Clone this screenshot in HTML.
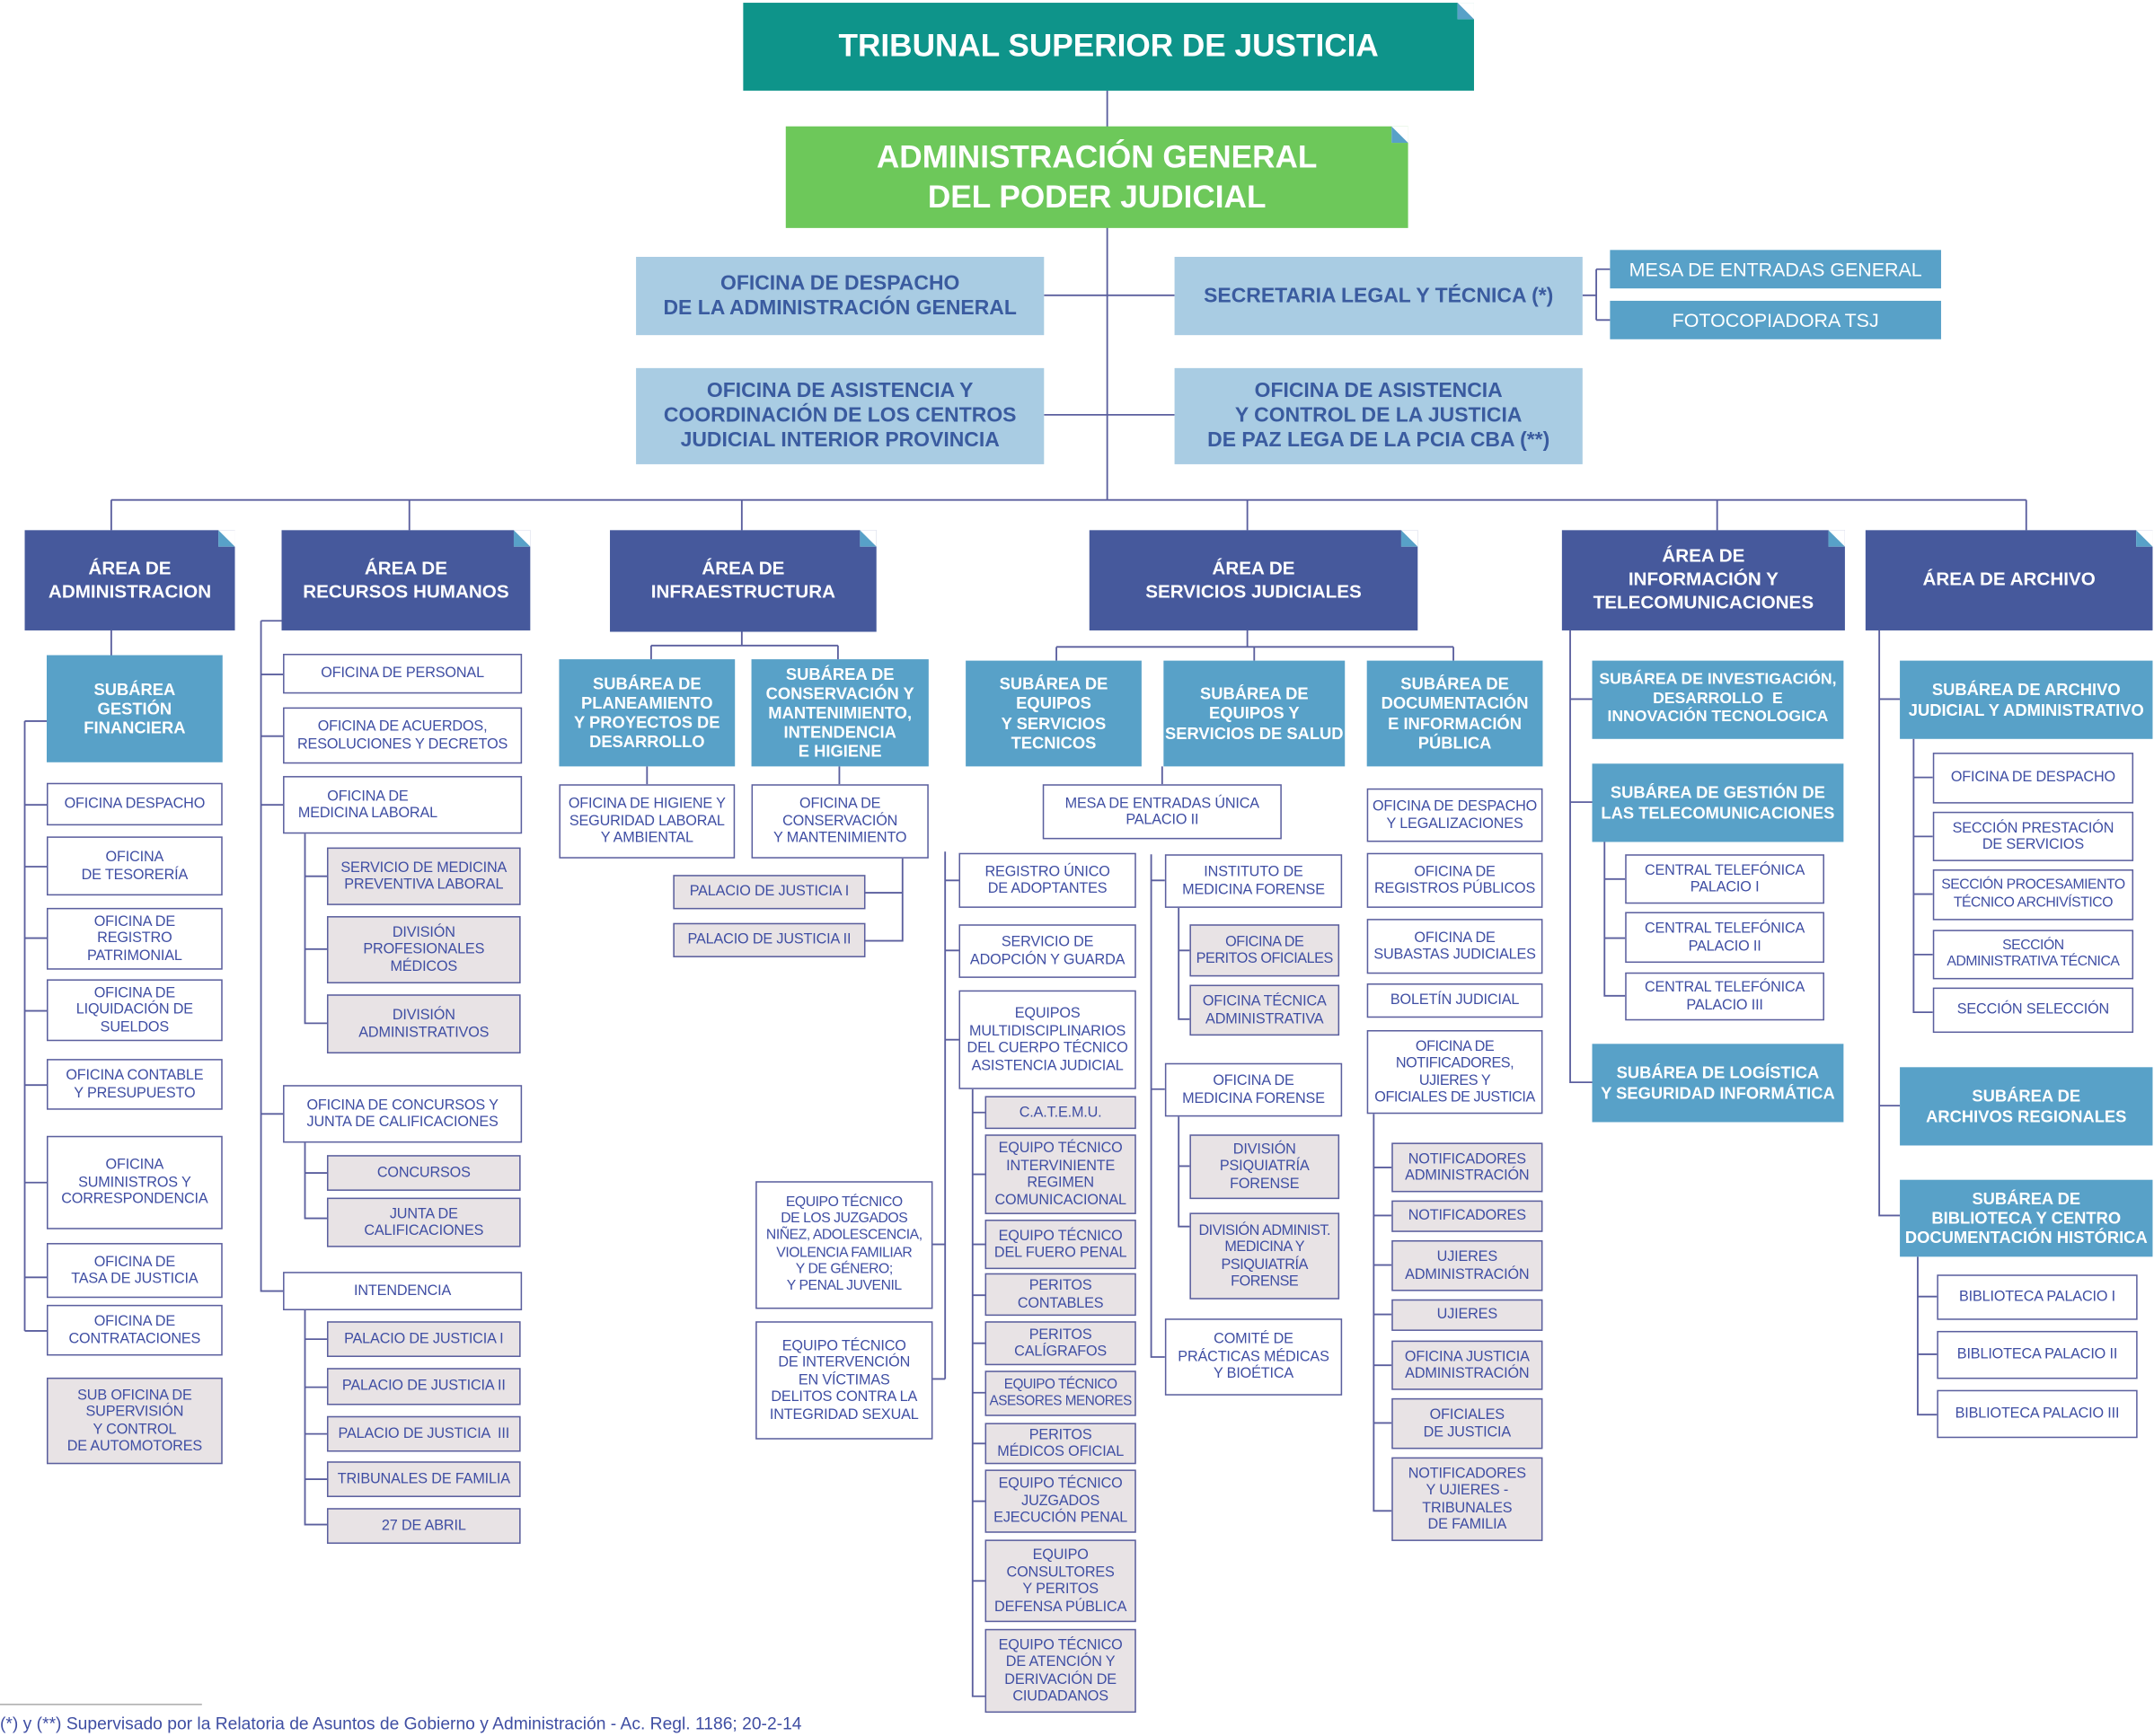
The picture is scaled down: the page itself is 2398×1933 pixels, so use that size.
<!DOCTYPE html>
<html><head><meta charset="utf-8">
<style>
html,body{margin:0;padding:0;background:#fff;width:2398px;height:1933px;overflow:hidden}
#w{position:absolute;left:0;top:0;width:1568px;height:1264px;transform:scale(1.52934);transform-origin:0 0;font-family:"Liberation Sans",sans-serif}
.x{position:absolute;display:flex;align-items:center;justify-content:center;text-align:center;box-sizing:border-box;line-height:1.18;text-transform:uppercase}
.b{background:#fff;border:1.3px solid #5b5f9e;color:#3f4ea3;font-size:10.6px;white-space:nowrap;letter-spacing:-0.1px}
.g{background:#e8e3e5;border:1.3px solid #5b5f9e;color:#3f4ea3;font-size:10.6px;white-space:nowrap;letter-spacing:-0.1px}
.s{background:#58a1c8;color:#fff;font-weight:bold;font-size:12px;white-space:nowrap}
.a{background:#46599c;color:#fff;font-weight:bold;font-size:13.5px;line-height:1.25}
.l{background:#a9cce3;color:#3a5b9f;font-weight:bold;font-size:15px;line-height:1.2}
.m{background:#58a1c8;color:#fff;font-size:14px}
.f::after{content:"";position:absolute;top:0;right:0;width:0;height:0;border-left:12px solid #58a1c8;border-top:12px solid #fff}
svg{position:absolute;left:0;top:0}
</style></head><body><div id="w">
<svg width="1568" height="1264" fill="none" stroke="#5b5f9e" stroke-width="1.2">
<path d="M806 66V364M760 215H855M760 302H855M1152 215H1162M1162 196V233M1162 196H1172M1162 233H1172"/>
<path d="M81 364H1475M81 364V386M298 364V386M540 364V386M908 364V386M1250 364V386M1475 364V386"/>
<path d="M81 459V477M18 525V969M18 525H34M18 586H34M18 631H34M18 683H34M18 736H34M18 790H34M18 861H34M18 930H34M18 969H34"/>
<path d="M190 452V940H206M190 452H205M190 491H206M190 536H206M190 586H206M190 811H206M222 607V745H238M222 638H238M222 691H238M222 832V887H238M222 854H238M222 954V1110H238M222 975H238M222 1010H238M222 1044H238M222 1077H238"/>
<path d="M540 460V470M474 470H610M474 470V480M610 470V480M471 558V571M611 558V571M657 625V685H630M630 650H657"/>
<path d="M908 459V471M769 471H1058M769 471V481M913 471V481M1058 471V481M846 558V571M688 620V1004M688 641H698M688 692H698M688 757H698M679 906H688M679 1004H688M708 793V1235H717M708 810H717M708 855H717M708 906H717M708 943H717M708 978H717M708 1014H717M708 1051H717M708 1093H717M708 1151H717"/>
<path d="M838 622V988H848M838 641H848M838 793H848M858 661V742H866M858 692H866M858 813V893H866M858 849H866"/>
<path d="M1000 811V1100H1013M1000 850H1013M1000 885H1013M1000 921H1013M1000 957H1013M1000 994H1013M1000 1036H1013"/>
<path d="M1143 459V788H1159M1143 509H1159M1143 584H1159M1168 613V725H1183M1168 640H1183M1168 683H1183"/>
<path d="M1368 459V885H1383M1368 509H1383M1368 805H1383M1393 538V737H1407M1393 566H1407M1393 609H1407M1393 651H1407M1393 695H1407M1396 915V1030H1410M1396 944H1410M1396 986H1410"/>
<path d="M0 1241H147" stroke="#999" stroke-width="0.8"/>
</svg>
<div class="x f" style="left:541px;top:2px;width:532px;height:64px;background:#0e948a;color:#fff;font-weight:bold;font-size:23px">TRIBUNAL SUPERIOR DE JUSTICIA</div>
<div class="x f" style="left:572px;top:92px;width:453px;height:74px;background:#6dc85a;color:#fff;font-weight:bold;font-size:23px;line-height:1.25">ADMINISTRACIÓN GENERAL<br>DEL PODER JUDICIAL</div>
<div class="x l" style="left:463px;top:187px;width:297px;height:57px">OFICINA DE DESPACHO<br>DE LA ADMINISTRACIÓN GENERAL</div>
<div class="x l" style="left:855px;top:187px;width:297px;height:57px">SECRETARIA LEGAL Y TÉCNICA (*)</div>
<div class="x m" style="left:1172px;top:182px;width:241px;height:28px">MESA DE ENTRADAS GENERAL</div>
<div class="x m" style="left:1172px;top:219px;width:241px;height:28px">FOTOCOPIADORA TSJ</div>
<div class="x l" style="left:463px;top:268px;width:297px;height:70px">OFICINA DE ASISTENCIA Y<br>COORDINACIÓN DE LOS CENTROS<br>JUDICIAL INTERIOR PROVINCIA</div>
<div class="x l" style="left:855px;top:268px;width:297px;height:70px">OFICINA DE ASISTENCIA<br>Y CONTROL DE LA JUSTICIA<br>DE PAZ LEGA DE LA PCIA CBA (**)</div>

<div class="x a f" style="left:18px;top:386px;width:153px;height:73px">ÁREA DE<br>ADMINISTRACION</div>
<div class="x a f" style="left:205px;top:386px;width:181px;height:73px">ÁREA DE<br>RECURSOS HUMANOS</div>
<div class="x a f" style="left:444px;top:386px;width:194px;height:74px">ÁREA DE<br>INFRAESTRUCTURA</div>
<div class="x a f" style="left:793px;top:386px;width:239px;height:73px">ÁREA DE<br>SERVICIOS JUDICIALES</div>
<div class="x a f" style="left:1137px;top:386px;width:206px;height:73px">ÁREA DE<br>INFORMACIÓN Y<br>TELECOMUNICACIONES</div>
<div class="x a f" style="left:1358px;top:386px;width:209px;height:73px">ÁREA DE ARCHIVO</div>

<div class="x s" style="left:34px;top:477px;width:128px;height:78px">SUBÁREA<br>GESTIÓN<br>FINANCIERA</div>
<div class="x b" style="left:34px;top:570px;width:128px;height:31px">OFICINA DESPACHO</div>
<div class="x b" style="left:34px;top:609px;width:128px;height:43px">OFICINA<br>DE TESORERÍA</div>
<div class="x b" style="left:34px;top:661px;width:128px;height:45px">OFICINA DE<br>REGISTRO<br>PATRIMONIAL</div>
<div class="x b" style="left:34px;top:713px;width:128px;height:45px">OFICINA DE<br>LIQUIDACIÓN DE<br>SUELDOS</div>
<div class="x b" style="left:34px;top:771px;width:128px;height:37px">OFICINA CONTABLE<br>Y PRESUPUESTO</div>
<div class="x b" style="left:34px;top:827px;width:128px;height:68px">OFICINA<br>SUMINISTROS Y<br>CORRESPONDENCIA</div>
<div class="x b" style="left:34px;top:905px;width:128px;height:40px">OFICINA DE<br>TASA DE JUSTICIA</div>
<div class="x b" style="left:34px;top:950px;width:128px;height:37px">OFICINA DE<br>CONTRATACIONES</div>
<div class="x g" style="left:34px;top:1003px;width:128px;height:63px">SUB OFICINA DE<br>SUPERVISIÓN<br>Y CONTROL<br>DE AUTOMOTORES</div>

<div class="x b" style="left:206px;top:476px;width:174px;height:29px">OFICINA DE PERSONAL</div>
<div class="x b" style="left:206px;top:515px;width:174px;height:41px">OFICINA DE ACUERDOS,<br>RESOLUCIONES Y DECRETOS</div>
<div class="x b" style="left:206px;top:565px;width:174px;height:42px;justify-content:flex-start;padding-left:10px">OFICINA DE<br>MEDICINA LABORAL</div>
<div class="x g" style="left:238px;top:617px;width:141px;height:42px">SERVICIO DE MEDICINA<br>PREVENTIVA LABORAL</div>
<div class="x g" style="left:238px;top:667px;width:141px;height:49px">DIVISIÓN<br>PROFESIONALES<br>MÉDICOS</div>
<div class="x g" style="left:238px;top:724px;width:141px;height:43px">DIVISIÓN<br>ADMINISTRATIVOS</div>
<div class="x b" style="left:206px;top:790px;width:174px;height:42px">OFICINA DE CONCURSOS Y<br>JUNTA DE CALIFICACIONES</div>
<div class="x g" style="left:238px;top:841px;width:141px;height:26px">CONCURSOS</div>
<div class="x g" style="left:238px;top:872px;width:141px;height:36px">JUNTA DE<br>CALIFICACIONES</div>
<div class="x b" style="left:206px;top:926px;width:174px;height:28px">INTENDENCIA</div>
<div class="x g" style="left:238px;top:962px;width:141px;height:26px">PALACIO DE JUSTICIA I</div>
<div class="x g" style="left:238px;top:996px;width:141px;height:27px">PALACIO DE JUSTICIA II</div>
<div class="x g" style="left:238px;top:1031px;width:141px;height:26px">PALACIO DE JUSTICIA &nbsp;III</div>
<div class="x g" style="left:238px;top:1064px;width:141px;height:26px">TRIBUNALES DE FAMILIA</div>
<div class="x g" style="left:238px;top:1098px;width:141px;height:26px">27 DE ABRIL</div>

<div class="x s" style="left:407px;top:480px;width:128px;height:78px">SUBÁREA DE<br>PLANEAMIENTO<br>Y PROYECTOS DE<br>DESARROLLO</div>
<div class="x s" style="left:547px;top:480px;width:129px;height:78px">SUBÁREA DE<br>CONSERVACIÓN Y<br>MANTENIMIENTO,<br>INTENDENCIA<br>E HIGIENE</div>
<div class="x b" style="left:407px;top:571px;width:128px;height:54px">OFICINA DE HIGIENE Y<br>SEGURIDAD LABORAL<br>Y AMBIENTAL</div>
<div class="x b" style="left:547px;top:571px;width:129px;height:54px">OFICINA DE<br>CONSERVACIÓN<br>Y MANTENIMIENTO</div>
<div class="x g" style="left:490px;top:637px;width:140px;height:25px">PALACIO DE JUSTICIA I</div>
<div class="x g" style="left:490px;top:672px;width:140px;height:25px">PALACIO DE JUSTICIA II</div>

<div class="x s" style="left:703px;top:481px;width:128px;height:77px">SUBÁREA DE<br>EQUIPOS<br>Y SERVICIOS<br>TECNICOS</div>
<div class="x s" style="left:847px;top:481px;width:132px;height:77px">SUBÁREA DE<br>EQUIPOS Y<br>SERVICIOS DE SALUD</div>
<div class="x s" style="left:995px;top:481px;width:128px;height:77px">SUBÁREA DE<br>DOCUMENTACIÓN<br>E INFORMACIÓN<br>PÚBLICA</div>
<div class="x b" style="left:759px;top:571px;width:174px;height:40px">MESA DE ENTRADAS ÚNICA<br>PALACIO II</div>
<div class="x b" style="left:698px;top:621px;width:129px;height:40px">REGISTRO ÚNICO<br>DE ADOPTANTES</div>
<div class="x b" style="left:698px;top:673px;width:129px;height:39px">SERVICIO DE<br>ADOPCIÓN Y GUARDA</div>
<div class="x b" style="left:698px;top:721px;width:129px;height:72px">EQUIPOS<br>MULTIDISCIPLINARIOS<br>DEL CUERPO TÉCNICO<br>ASISTENCIA JUDICIAL</div>
<div class="x g" style="left:717px;top:798px;width:110px;height:24px">C.A.T.E.M.U.</div>
<div class="x g" style="left:717px;top:826px;width:110px;height:58px">EQUIPO TÉCNICO<br>INTERVINIENTE<br>REGIMEN<br>COMUNICACIONAL</div>
<div class="x g" style="left:717px;top:888px;width:110px;height:36px">EQUIPO TÉCNICO<br>DEL FUERO PENAL</div>
<div class="x g" style="left:717px;top:927px;width:110px;height:31px">PERITOS<br>CONTABLES</div>
<div class="x g" style="left:717px;top:962px;width:110px;height:32px">PERITOS<br>CALÍGRAFOS</div>
<div class="x g" style="left:717px;top:998px;width:110px;height:33px;font-size:10px;letter-spacing:-0.3px">EQUIPO TÉCNICO<br>ASESORES MENORES</div>
<div class="x g" style="left:717px;top:1036px;width:110px;height:30px">PERITOS<br>MÉDICOS OFICIAL</div>
<div class="x g" style="left:717px;top:1070px;width:110px;height:46px">EQUIPO TÉCNICO<br>JUZGADOS<br>EJECUCIÓN PENAL</div>
<div class="x g" style="left:717px;top:1121px;width:110px;height:60px">EQUIPO<br>CONSULTORES<br>Y PERITOS<br>DEFENSA PÚBLICA</div>
<div class="x g" style="left:717px;top:1186px;width:110px;height:61px">EQUIPO TÉCNICO<br>DE ATENCIÓN Y<br>DERIVACIÓN DE<br>CIUDADANOS</div>
<div class="x b" style="left:550px;top:860px;width:129px;height:93px;font-size:10.3px;letter-spacing:-0.3px">EQUIPO TÉCNICO<br>DE LOS JUZGADOS<br>NIÑEZ, ADOLESCENCIA,<br>VIOLENCIA FAMILIAR<br>Y DE GÉNERO;<br>Y PENAL JUVENIL</div>
<div class="x b" style="left:550px;top:962px;width:129px;height:86px">EQUIPO TÉCNICO<br>DE INTERVENCIÓN<br>EN VÍCTIMAS<br>DELITOS CONTRA LA<br>INTEGRIDAD SEXUAL</div>

<div class="x b" style="left:848px;top:622px;width:129px;height:39px">INSTITUTO DE<br>MEDICINA FORENSE</div>
<div class="x g" style="left:866px;top:673px;width:109px;height:38px;letter-spacing:-0.3px">OFICINA DE<br>PERITOS OFICIALES</div>
<div class="x g" style="left:866px;top:717px;width:109px;height:37px">OFICINA TÉCNICA<br>ADMINISTRATIVA</div>
<div class="x b" style="left:848px;top:774px;width:129px;height:39px">OFICINA DE<br>MEDICINA FORENSE</div>
<div class="x g" style="left:866px;top:826px;width:109px;height:47px">DIVISIÓN<br>PSIQUIATRÍA<br>FORENSE</div>
<div class="x g" style="left:866px;top:883px;width:109px;height:63px;letter-spacing:-0.3px">DIVISIÓN ADMINIST.<br>MEDICINA Y<br>PSIQUIATRÍA<br>FORENSE</div>
<div class="x b" style="left:848px;top:960px;width:129px;height:56px">COMITÉ DE<br>PRÁCTICAS MÉDICAS<br>Y BIOÉTICA</div>

<div class="x b" style="left:995px;top:574px;width:128px;height:39px">OFICINA DE DESPACHO<br>Y LEGALIZACIONES</div>
<div class="x b" style="left:995px;top:621px;width:128px;height:40px">OFICINA DE<br>REGISTROS PÚBLICOS</div>
<div class="x b" style="left:995px;top:669px;width:128px;height:40px">OFICINA DE<br>SUBASTAS JUDICIALES</div>
<div class="x b" style="left:995px;top:716px;width:128px;height:25px">BOLETÍN JUDICIAL</div>
<div class="x b" style="left:995px;top:750px;width:128px;height:61px;letter-spacing:-0.3px">OFICINA DE<br>NOTIFICADORES,<br>UJIERES Y<br>OFICIALES DE JUSTICIA</div>
<div class="x g" style="left:1013px;top:832px;width:110px;height:36px">NOTIFICADORES<br>ADMINISTRACIÓN</div>
<div class="x g" style="left:1013px;top:874px;width:110px;height:23px">NOTIFICADORES</div>
<div class="x g" style="left:1013px;top:903px;width:110px;height:37px">UJIERES<br>ADMINISTRACIÓN</div>
<div class="x g" style="left:1013px;top:946px;width:110px;height:23px">UJIERES</div>
<div class="x g" style="left:1013px;top:976px;width:110px;height:36px">OFICINA JUSTICIA<br>ADMINISTRACIÓN</div>
<div class="x g" style="left:1013px;top:1018px;width:110px;height:37px">OFICIALES<br>DE JUSTICIA</div>
<div class="x g" style="left:1013px;top:1061px;width:110px;height:61px">NOTIFICADORES<br>Y UJIERES -<br>TRIBUNALES<br>DE FAMILIA</div>

<div class="x s" style="left:1159px;top:481px;width:183px;height:57px;font-size:11.5px">SUBÁREA DE INVESTIGACIÓN,<br>DESARROLLO &nbsp;E<br>INNOVACIÓN TECNOLOGICA</div>
<div class="x s" style="left:1159px;top:556px;width:183px;height:57px">SUBÁREA DE GESTIÓN DE<br>LAS TELECOMUNICACIONES</div>
<div class="x b" style="left:1183px;top:622px;width:145px;height:36px">CENTRAL TELEFÓNICA<br>PALACIO I</div>
<div class="x b" style="left:1183px;top:664px;width:145px;height:37px">CENTRAL TELEFÓNICA<br>PALACIO II</div>
<div class="x b" style="left:1183px;top:708px;width:145px;height:35px">CENTRAL TELEFÓNICA<br>PALACIO III</div>
<div class="x s" style="left:1159px;top:760px;width:183px;height:57px">SUBÁREA DE LOGÍSTICA<br>Y SEGURIDAD INFORMÁTICA</div>

<div class="x s" style="left:1383px;top:481px;width:184px;height:57px">SUBÁREA DE ARCHIVO<br>JUDICIAL Y ADMINISTRATIVO</div>
<div class="x b" style="left:1407px;top:548px;width:146px;height:37px">OFICINA DE DESPACHO</div>
<div class="x b" style="left:1407px;top:591px;width:146px;height:36px">SECCIÓN PRESTACIÓN<br>DE SERVICIOS</div>
<div class="x b" style="left:1407px;top:633px;width:146px;height:37px;font-size:10.3px;letter-spacing:-0.3px">SECCIÓN PROCESAMIENTO<br>TÉCNICO ARCHIVÍSTICO</div>
<div class="x b" style="left:1407px;top:677px;width:146px;height:36px;font-size:10.3px;letter-spacing:-0.3px">SECCIÓN<br>ADMINISTRATIVA TÉCNICA</div>
<div class="x b" style="left:1407px;top:719px;width:146px;height:33px">SECCIÓN SELECCIÓN</div>
<div class="x s" style="left:1383px;top:777px;width:184px;height:57px">SUBÁREA DE<br>ARCHIVOS REGIONALES</div>
<div class="x s" style="left:1383px;top:859px;width:184px;height:56px">SUBÁREA DE<br>BIBLIOTECA Y CENTRO<br>DOCUMENTACIÓN HISTÓRICA</div>
<div class="x b" style="left:1410px;top:928px;width:146px;height:33px">BIBLIOTECA PALACIO I</div>
<div class="x b" style="left:1410px;top:969px;width:146px;height:35px">BIBLIOTECA PALACIO II</div>
<div class="x b" style="left:1410px;top:1012px;width:146px;height:35px">BIBLIOTECA PALACIO III</div>

<div style="position:absolute;left:0;top:1248px;font-size:12.6px;color:#3f4ea3;white-space:nowrap">(*) y (**) Supervisado por la Relatoria de Asuntos de Gobierno y Administración - Ac. Regl. 1186; 20-2-14</div>
</div></body></html>
